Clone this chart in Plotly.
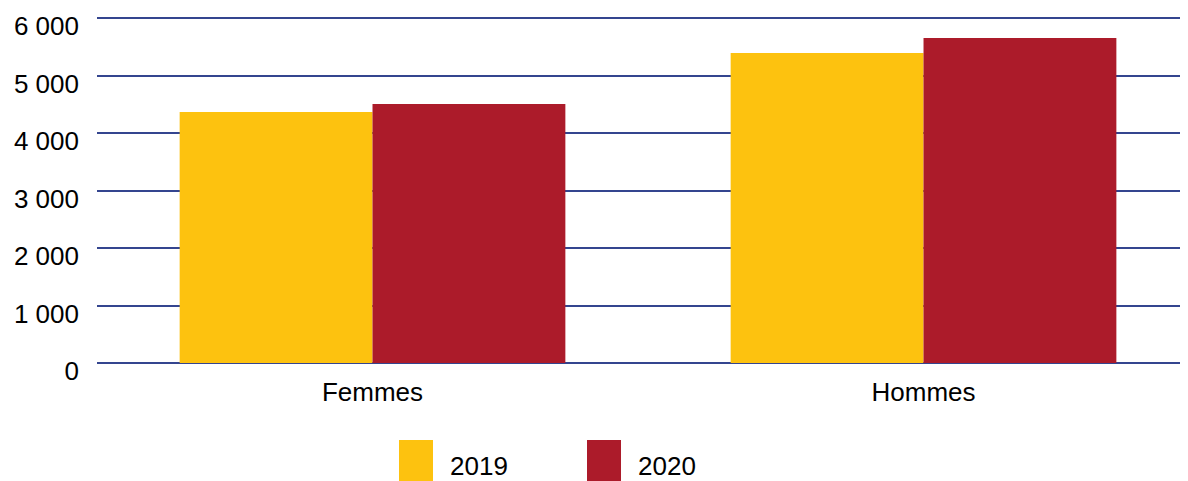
import plotly.graph_objects as go

categories = ["Femmes", "Hommes"]
years = ["2019", "2020"]
values_2019 = [4367, 5392]
values_2020 = [4506, 5653]
colors = ["#FDC20F", "#AC1B2A"]
tick_vals = [0, 1000, 2000, 3000, 4000, 5000, 6000]
tick_text = ["0", "1 000", "2 000", "3 000", "4 000", "5 000", "6 000"]

# the page body adds an 8px margin, so the figure is drawn 8px smaller
OFF = 8
W, H = 1188 - OFF, 481 - OFF
L, R, T, B = 97 - OFF, 0, 16 - OFF, 481 - 363
FONT = "Liberation Sans, Arial, Helvetica, sans-serif"

fig = go.Figure()
for name, vals, col in zip(years, [values_2019, values_2020], colors):
    fig.add_trace(go.Bar(x=categories, y=vals, name=name, marker=dict(color=col, line=dict(width=0)),
                         showlegend=False))

# custom legend (large square swatches); positions given in window pixels
pw, ph = W - L - R, H - T - B
def px2x(p):
    return (p - OFF - L) / pw
def py2y(p):
    return (H - B - (p - OFF)) / ph

legend_x = [399, 587]
for i, (name, col) in enumerate(zip(years, colors)):
    x0 = legend_x[i]
    fig.add_shape(type="rect", xref="paper", yref="paper",
                  x0=px2x(x0), x1=px2x(x0 + 34), y0=py2y(490), y1=py2y(440),
                  fillcolor=col, line=dict(width=0))
    fig.add_annotation(xref="paper", yref="paper", x=px2x(x0 + 49), y=py2y(466),
                       text=name, showarrow=False, xanchor="left", yanchor="middle",
                       font=dict(size=26, color="#000000", family=FONT))

y_top = 6000 * ph / 345.0

fig.update_layout(
    width=W, height=H,
    margin=dict(l=L, r=R, t=T, b=B, pad=0),
    paper_bgcolor="white", plot_bgcolor="white",
    barmode="group", bargap=0.3, bargroupgap=0,
    font=dict(family=FONT, size=26, color="#000000"),
    xaxis=dict(range=[-0.5, 1.48], showgrid=False, showline=False, ticks="",
               tickfont=dict(size=26), ticklabelstandoff=11),
    yaxis=dict(range=[0, y_top], tickvals=tick_vals, ticktext=tick_text,
               showgrid=True, gridcolor="#34458f", gridwidth=1.5,
               zeroline=True, zerolinecolor="#34458f", zerolinewidth=1.5,
               showline=False, ticks="", tickfont=dict(size=26),
               ticklabelstandoff=17, ticklabelshift=8),
)

fig.write_html("out.html")
